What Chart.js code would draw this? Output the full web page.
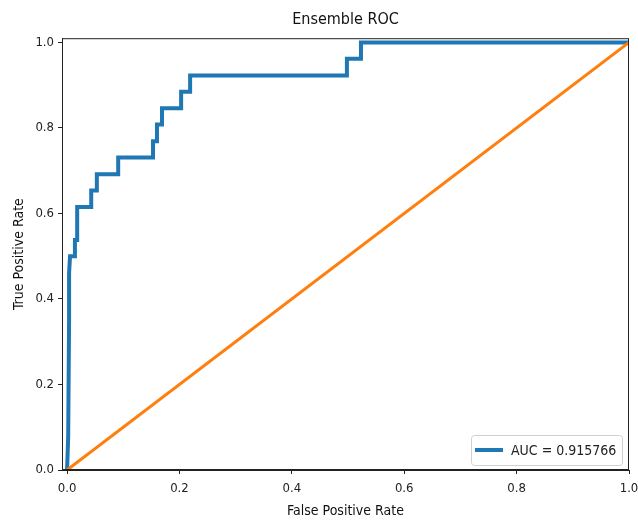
<!DOCTYPE html>
<html lang="en">
<head>
    <meta charset="UTF-8">
    <title>Ensemble ROC</title>
    <script src="https://cdn.jsdelivr.net/npm/chart.js"></script>
    <style>
        body {
            margin: 0;
            background: #ffffff;
        }
        canvas {
            display: block;
        }
    </style>
</head>
<body>
    <canvas id="rocChart" width="638" height="520"></canvas>

    <script>
        // ROC curve (step curve)
        const fpr = [0, 0.002, 0.0036, 0.0036, 0.0053, 0.014, 0.014, 0.018, 0.018, 0.043, 0.043, 0.053, 0.053,
            0.091, 0.091, 0.153, 0.153, 0.160, 0.160, 0.169, 0.169, 0.203, 0.203, 0.219, 0.219,
            0.498, 0.498, 0.523, 0.523, 1.0];
        const tpr = [0, 0.077, 0.35, 0.46, 0.5, 0.5, 0.538, 0.538, 0.615, 0.615, 0.654, 0.654, 0.692,
            0.692, 0.731, 0.731, 0.769, 0.769, 0.808, 0.808, 0.846, 0.846, 0.885, 0.885, 0.923,
            0.923, 0.962, 0.962, 1.0, 1.0];
        const chanceX = [0, 1];
        const chanceY = [0, 1];
        const aucLabel = "AUC = 0.915766";

        const xTicks = [0, 0.2, 0.4, 0.6, 0.8, 1.0];
        const yTicks = [0, 0.2, 0.4, 0.6, 0.8, 1.0];

        const fontFamily = "'DejaVu Sans Condensed', 'Liberation Sans Narrow', 'DejaVu Sans', sans-serif";

        function toPoints(xs, ys) {
            return xs.map((x, i) => ({ x: x, y: ys[i] }));
        }

        // frame on all four sides + legend box in the lower right
        const framePlugin = {
            id: 'frame',
            afterDraw(chart) {
                const c = chart.ctx;
                const a = chart.chartArea;
                c.save();
                c.strokeStyle = '#222';
                c.lineWidth = 1;
                c.strokeRect(a.left + 0.5, a.top + 0.5, a.right - a.left - 1, a.bottom - a.top - 1);

                // legend
                const ds = chart.data.datasets[0];
                const w = 151, h = 30;
                const x = a.right - 7 - w, y = a.bottom - 5 - h;
                c.fillStyle = 'rgba(255,255,255,0.8)';
                c.strokeStyle = '#d0d0d0';
                c.beginPath();
                c.roundRect(x + 0.5, y + 0.5, w, h, 3);
                c.fill();
                c.stroke();
                c.strokeStyle = ds.borderColor;
                c.lineWidth = 4;
                c.beginPath();
                c.moveTo(x + 4, y + h / 2);
                c.lineTo(x + 32, y + h / 2);
                c.stroke();
                c.fillStyle = '#222';
                c.font = "14px " + fontFamily;
                c.textBaseline = 'middle';
                c.fillText(ds.label, x + 40, y + h / 2 + 1);
                c.restore();
            }
        };

        const ctx = document.getElementById("rocChart").getContext("2d");
        const chart = new Chart(ctx, {
            type: 'scatter',
            data: {
                datasets: [{
                    label: aucLabel,
                    data: toPoints(fpr, tpr),
                    showLine: true,
                    borderColor: '#1f77b4',
                    borderWidth: 4,
                    pointRadius: 0,
                    order: 2
                }, {
                    label: 'chance',
                    data: toPoints(chanceX, chanceY),
                    showLine: true,
                    borderColor: '#ff7f0e',
                    borderWidth: 3,
                    pointRadius: 0,
                    order: 1
                }]
            },
            options: {
                responsive: false,
                animation: false,
                layout: {
                    padding: { left: 0, right: 9, top: 0, bottom: 0 }
                },
                plugins: {
                    legend: { display: false },
                    tooltip: { enabled: false },
                    title: {
                        display: true,
                        text: 'Ensemble ROC',
                        fullSize: false,
                        color: '#111',
                        font: { family: fontFamily, size: 16, weight: 'normal' },
                        padding: { top: 10, bottom: 9 }
                    }
                },
                scales: {
                    x: {
                        type: 'linear',
                        min: -0.009,
                        max: 1.0,
                        afterBuildTicks(scale) {
                            scale.ticks = xTicks.map(v => ({ value: v }));
                        },
                        afterFit(scale) {
                            scale.height = 50;
                            scale.paddingLeft = 0;
                            scale.paddingRight = 0;
                        },
                        grid: {
                            drawOnChartArea: false,
                            drawTicks: true,
                            tickLength: 4,
                            color: '#222'
                        },
                        border: { color: '#222' },
                        ticks: {
                            color: '#222',
                            padding: 7,
                            maxRotation: 0,
                            font: { family: fontFamily, size: 13 },
                            callback: v => v.toFixed(1)
                        },
                        title: {
                            display: true,
                            text: 'False Positive Rate',
                            color: '#111',
                            font: { family: fontFamily, size: 14 },
                            padding: { top: 4, bottom: 0 }
                        }
                    },
                    y: {
                        type: 'linear',
                        min: 0,
                        max: 1.01,
                        afterBuildTicks(scale) {
                            scale.ticks = yTicks.map(v => ({ value: v }));
                        },
                        afterFit(scale) {
                            scale.width = 62;
                        },
                        grid: {
                            drawOnChartArea: false,
                            drawTicks: true,
                            tickLength: 4,
                            color: '#222'
                        },
                        border: { color: '#222' },
                        ticks: {
                            color: '#222',
                            padding: 4,
                            font: { family: fontFamily, size: 13 },
                            callback: v => v.toFixed(1)
                        },
                        title: {
                            display: true,
                            text: 'True Positive Rate',
                            color: '#111',
                            font: { family: fontFamily, size: 14 },
                            padding: { top: 11, bottom: 0 }
                        }
                    }
                }
            },
            plugins: [framePlugin]
        });
    </script>
</body>
</html>
